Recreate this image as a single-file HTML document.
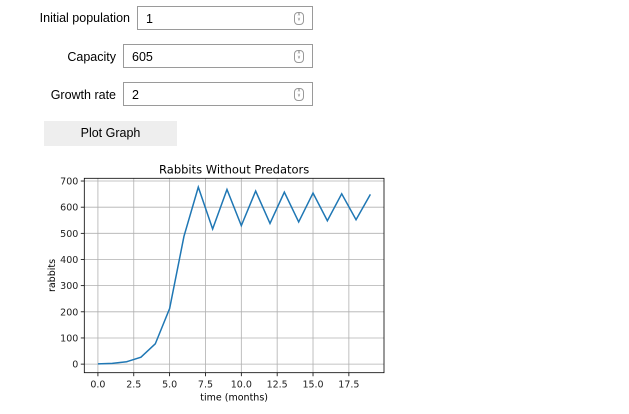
<!DOCTYPE html>
<html><head><meta charset="utf-8"><style>
body{margin:0;width:629px;height:414px;background:#fff;font-family:"Liberation Sans",Arial,sans-serif;position:relative;overflow:hidden}
.lbl{position:absolute;font-size:12.5px;color:#000;text-align:right}
.box{position:absolute;border:1px solid #9a9a9a;box-sizing:border-box;height:24px;font-size:12.5px;padding:5px 0 0 8px}
.spin{position:absolute;right:8px;top:5px;width:8px;height:11px;border:1px solid #999;border-radius:4px;font-size:5px;line-height:5px;text-align:center;color:#555}
.btn{position:absolute;left:44px;top:121px;width:133px;height:25px;background:#eee;font-size:12.5px;text-align:center;line-height:25px}
</style></head><body>
<div class="lbl" style="left:30px;top:11px;width:100px">Initial population</div>
<div class="box" style="left:137px;top:6px;width:176px">1<div class="spin">˄<br>˅</div></div>
<div class="lbl" style="left:30px;top:50px;width:86px">Capacity</div>
<div class="box" style="left:123px;top:44px;width:190px">605<div class="spin">˄<br>˅</div></div>
<div class="lbl" style="left:30px;top:88px;width:86px">Growth rate</div>
<div class="box" style="left:123px;top:82px;width:190px">2<div class="spin">˄<br>˅</div></div>
<div class="btn">Plot Graph</div>
<svg id="chart" width="629" height="414" style="position:absolute;left:0;top:0" font-family="DejaVu Sans, sans-serif"></svg>
<script>
const months=[0,1,2,3,4,5,6,7,8,9,10,11,12,13,14,15,16,17,18,19];
const rabbits=[1,3,9,26.6,77.5,212.6,488.5,676.6,516.4,667.7,529.4,661.7,537.7,657.3,543.7,653.9,548.2,651.1,551.9,648.8];
const xTicks=[0,2.5,5,7.5,10,12.5,15,17.5];
const xTickLabels=["0.0","2.5","5.0","7.5","10.0","12.5","15.0","17.5"];
const yTicks=[0,100,200,300,400,500,600,700];
const yTickLabels=["0","100","200","300","400","500","600","700"];
const L=84.3,R=384,T=178.3,B=372.7;
const xmin=-0.95,xmax=19.95,ymin=-32.8,ymax=710.4;
const sx=v=>L+(v-xmin)/(xmax-xmin)*(R-L);
const sy=v=>B-(v-ymin)/(ymax-ymin)*(B-T);
const svg=document.getElementById('chart');
const NS='http://www.w3.org/2000/svg';
function mk(t,a,txt){const e=document.createElementNS(NS,t);for(const k in a)e.setAttribute(k,a[k]);if(txt!==undefined)e.textContent=txt;svg.appendChild(e);return e;}
xTicks.forEach((v,i)=>{const x=sx(v);
 let g=mk('line',{x1:x,x2:x,y1:T,y2:B,stroke:'#b0b0b0','stroke-width':0.8});
 
 mk('line',{x1:x,x2:x,y1:B,y2:B+3.5,stroke:'#000','stroke-width':0.8});
 let t=mk('text',{x:x,y:B+15,'font-size':9.5,'text-anchor':'middle',fill:'#222'},xTickLabels[i]);
 });
yTicks.forEach((v,i)=>{const y=sy(v);
 let g=mk('line',{x1:L,x2:R,y1:y,y2:y,stroke:'#b0b0b0','stroke-width':0.8});
 
 mk('line',{x1:L-3.5,x2:L,y1:y,y2:y,stroke:'#000','stroke-width':0.8});
 let t=mk('text',{x:L-6,y:y+3.5,'font-size':9.5,'text-anchor':'end',fill:'#222'},yTickLabels[i]);
 });
let p=mk('polyline',{points:months.map((m,i)=>sx(m)+','+sy(rabbits[i])).join(' '),fill:'none',stroke:'#1f77b4','stroke-width':1.5});

let f=mk('rect',{x:L,y:T,width:R-L,height:B-T,fill:'none',stroke:'#000','stroke-width':0.8});

let ti=mk('text',{x:(L+R)/2,y:T-5,'font-size':11.5,'text-anchor':'middle'},'Rabbits Without Predators');

let xl=mk('text',{x:(L+R)/2,y:B+28,'font-size':9.5,'text-anchor':'middle'},'time (months)');

let yl=mk('text',{x:0,y:0,'font-size':9.5,'text-anchor':'middle',transform:'translate(55,'+((T+B)/2)+') rotate(-90)'},'rabbits');

</script>
</body></html>
